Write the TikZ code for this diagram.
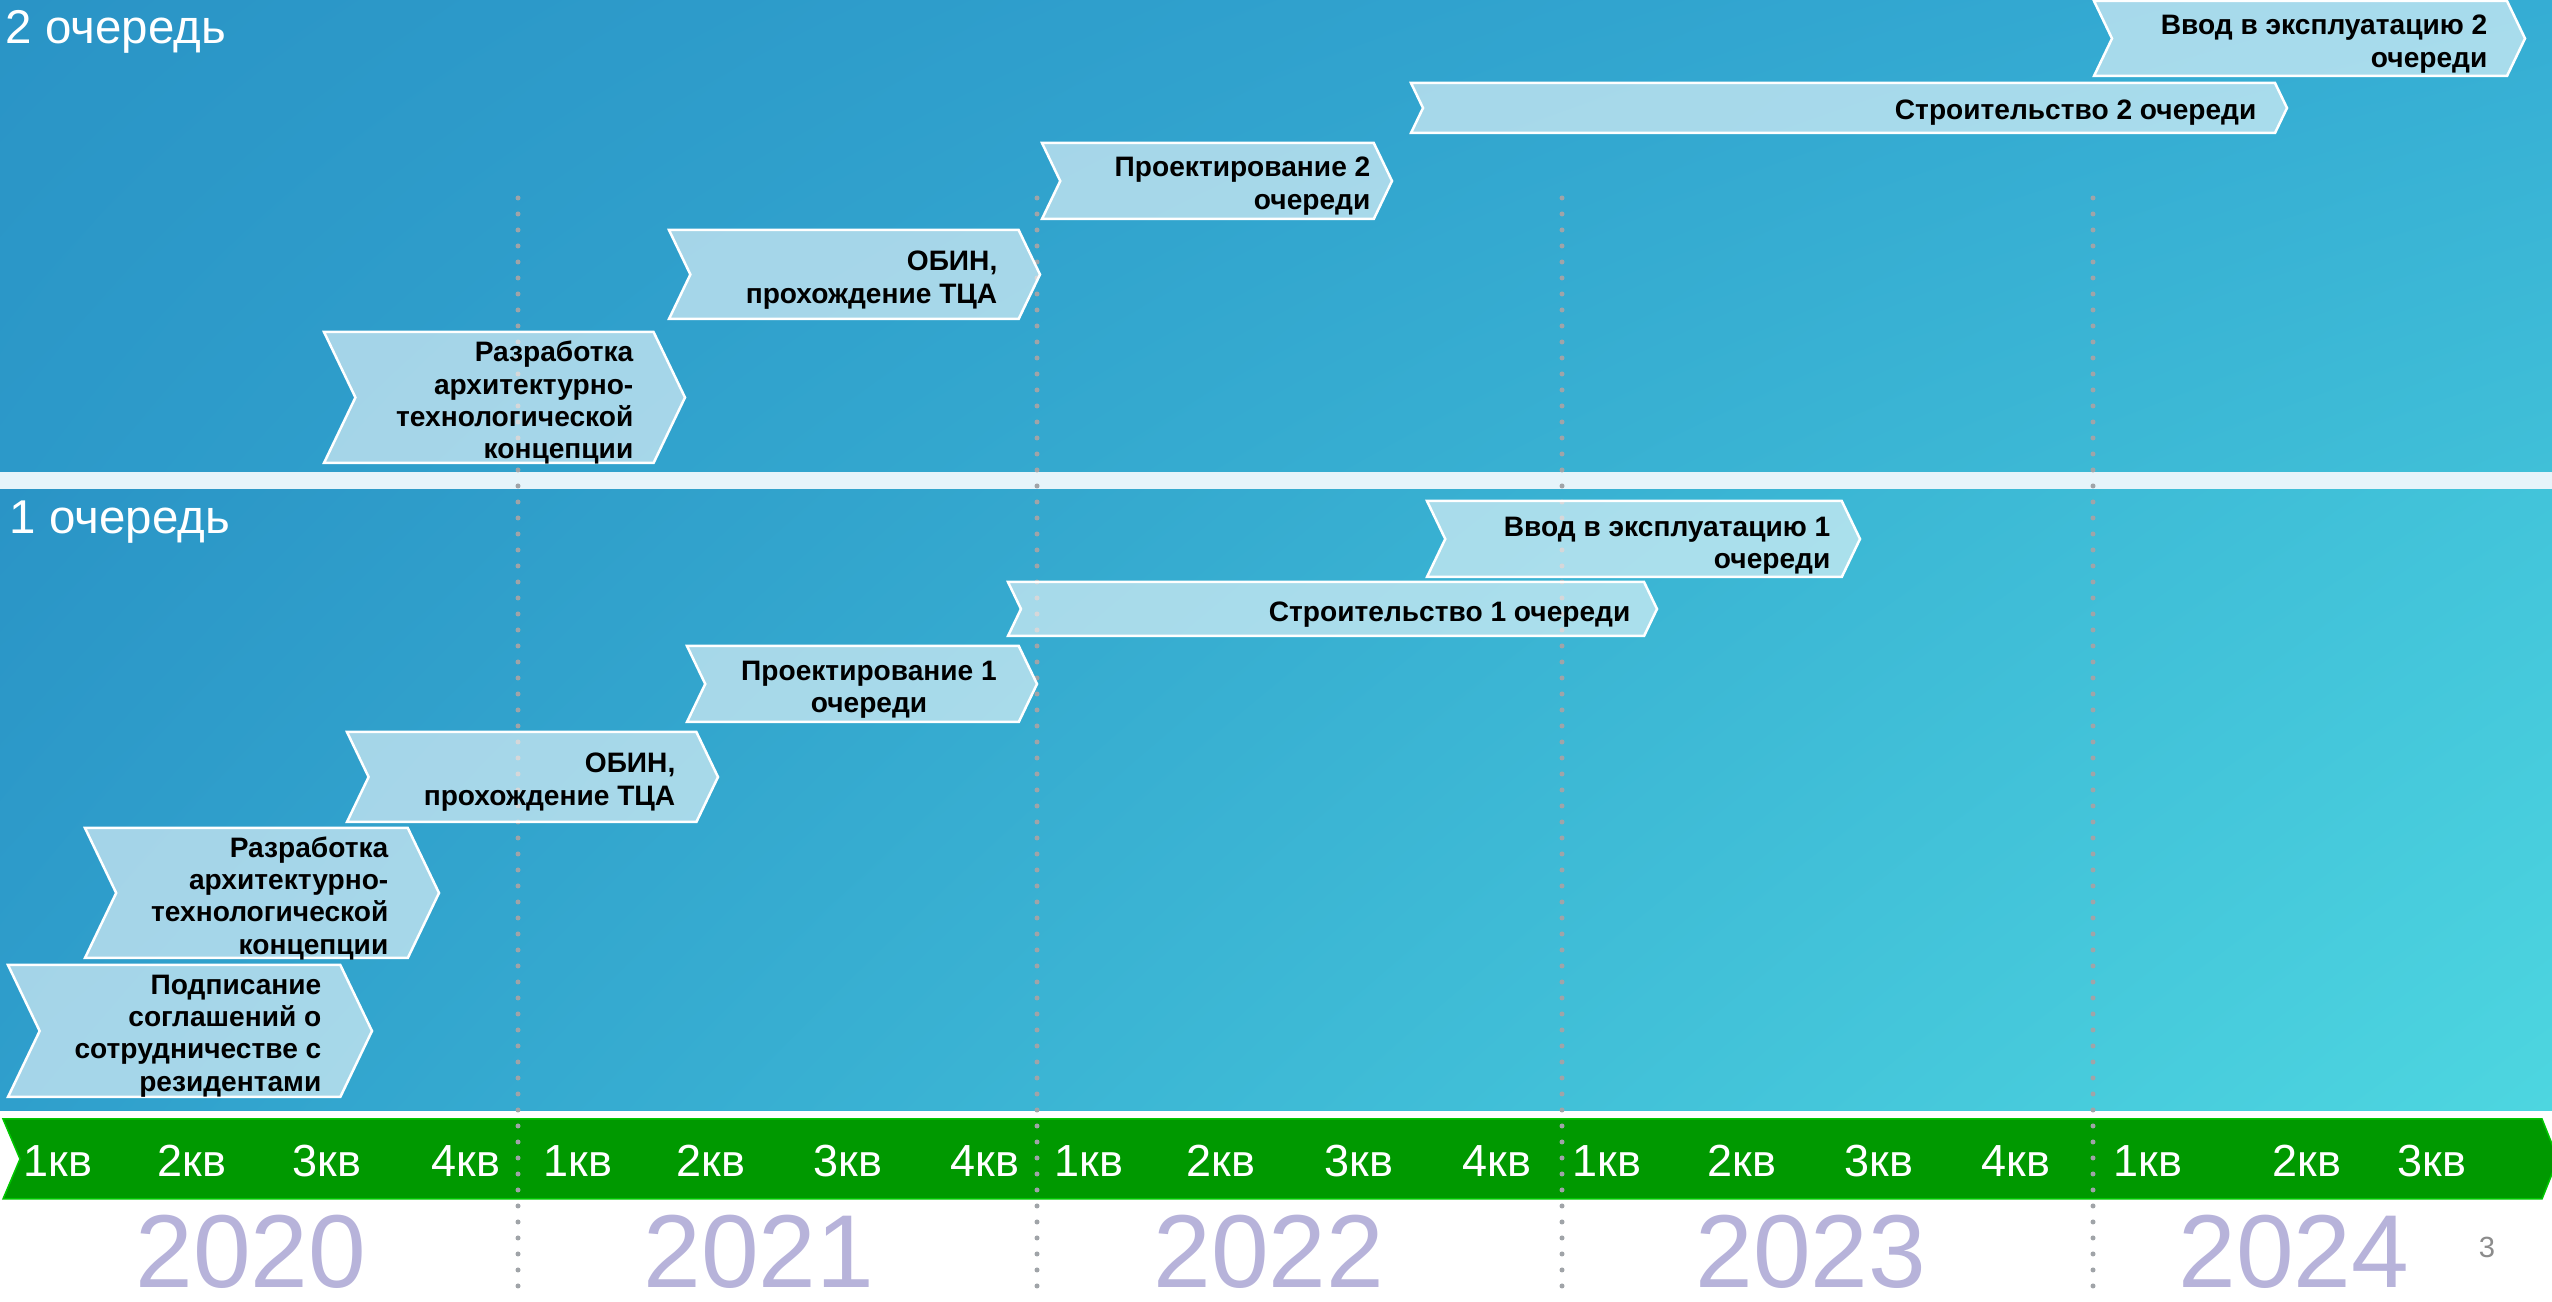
\documentclass[tikz,border=0pt]{standalone}
\usepackage{fontspec}
\setmainfont{Liberation Sans}
\usepackage{tikz}
\usetikzlibrary{positioning}
\usetikzlibrary{shadings}
\definecolor{skyUL}{HTML}{2A94C6}
\definecolor{skyUR}{HTML}{35ADD4}
\definecolor{skyLL}{HTML}{2C99C9}
\definecolor{skyLR}{HTML}{40C0D8}
\definecolor{seaUR}{HTML}{42C4DA}
\definecolor{seaLL}{HTML}{2F9FCC}
\definecolor{seaLR}{HTML}{4DD6E0}
\definecolor{stripcol}{HTML}{E6F4FA}
\definecolor{bandgreen}{HTML}{009900}
\definecolor{yearcol}{HTML}{B7B3DA}
\definecolor{sepgray}{HTML}{A0A4A8}
\definecolor{pagegray}{HTML}{8C8C8C}
\tikzstyle{chevron}=[fill=white, fill opacity=0.57, draw=white, line width=0.25mm, line join=miter]
\tikzstyle{chevtext}=[text=black, inner sep=0pt, align=right, font=\fontsize{8}{9.2}\selectfont\bfseries]
\tikzstyle{quarter}=[text=white, inner sep=0pt, anchor=base, font=\fontsize{12.8}{14}\selectfont]
\tikzstyle{year}=[text=yearcol, inner sep=0pt, anchor=base, font=\fontsize{29.5}{34}\selectfont]
\tikzstyle{heading}=[text=white, inner sep=0pt, anchor=base west, font=\fontsize{13.5}{16}\selectfont]
\tikzset{sep/.style={draw=sepgray, line width=0.5mm, line cap=round, dash pattern=on 0pt off 1.6mm}}
\tikzset{band/.style={fill=bandgreen, draw=green!45!bandgreen, line width=0.15mm}}

\newcommand{\chev}[4]{%
  \pgfmathsetmacro{\chevd}{0.24*(#4-#3)}%
  \pgfmathsetmacro{\chevm}{(#3+#4)/2}%
  \draw[chevron] (#1,#3) -- ({#2-\chevd},#3) -- (#2,\chevm) -- ({#2-\chevd},#4) -- (#1,#4) -- ({#1+\chevd},\chevm) -- cycle;}

\begin{document}
\begin{tikzpicture}[x=0.1mm,y=-0.1mm]
		\useasboundingbox (0,0) rectangle (2552,1302);
		\fill[white] (0,0) rectangle (2552,1302);
		\shade[upper left=skyUL, upper right=skyUR, lower left=skyLL, lower right=skyLR] (0,0) rectangle (2552,472);
		\fill[stripcol] (0,472) rectangle (2552,490);
		\shade[upper left=skyUL, upper right=seaUR, lower left=seaLL, lower right=seaLR] (0,490) rectangle (2552,1111);
		\draw[band] (3,1119) -- (2542,1119) -- (2558,1159) -- (2542,1199) -- (3,1199) -- (20,1159) -- cycle;

		\draw[sep] (518,198) -- (518,1292);
		\draw[sep] (1037,198) -- (1037,1292);
		\draw[sep] (1562,198) -- (1562,1292);
		\draw[sep] (2093,198) -- (2093,1292);

		\node[heading] (head2) at (5,44) {2 очередь};
		\node[heading] (head1) at (9,534) {1 очередь};

		\chev{2094}{2525}{1}{76}
		\chev{1411}{2287}{83}{133}
		\chev{1042}{1392}{143}{219}
		\chev{669}{1040}{230}{319}
		\chev{324}{685}{332}{463}
		\node[chevtext, anchor=east] (vvod2) at (2488,44) {Ввод в эксплуатацию 2\\очереди};
		\node[chevtext, anchor=east] (stroy2) at (2257,113) {Строительство 2 очереди};
		\node[chevtext, anchor=east] (proekt2) at (1371,186) {Проектирование 2\\очереди};
		\node[chevtext, anchor=east] (obin2) at (998,280) {ОБИН,\\прохождение ТЦА};
		\node[chevtext, anchor=east] (razr2) at (634,403) {Разработка\\архитектурно-\\технологической\\концепции};

		\chev{1427}{1860}{501}{577}
		\chev{1008}{1657}{582}{636}
		\chev{687}{1037}{646}{722}
		\chev{347}{718}{732}{822}
		\chev{85}{439}{828}{958}
		\chev{8}{372}{965}{1097}
		\node[chevtext, anchor=east] (vvod1) at (1831,546) {Ввод в эксплуатацию 1\\очереди};
		\node[chevtext, anchor=east] (stroy1) at (1631,615) {Строительство 1 очереди};
		\node[chevtext, align=center] (proekt1) at (869,690) {Проектирование 1\\очереди};
		\node[chevtext, anchor=east] (obin1) at (676,782) {ОБИН,\\прохождение ТЦА};
		\node[chevtext, anchor=east] (razr1) at (389,898) {Разработка\\архитектурно-\\технологической\\концепции};
		\node[chevtext, anchor=east] (podp1) at (322,1036) {Подписание\\соглашений о\\сотрудничестве с\\резидентами};

		\node[quarter] (q20a) at (58,1177) {1кв};
		\node[quarter] (q20b) at (192,1177) {2кв};
		\node[quarter] (q20c) at (327,1177) {3кв};
		\node[quarter] (q20d) at (466,1177) {4кв};
		\node[quarter] (q21a) at (578,1177) {1кв};
		\node[quarter] (q21b) at (711,1177) {2кв};
		\node[quarter] (q21c) at (848,1177) {3кв};
		\node[quarter] (q21d) at (985,1177) {4кв};
		\node[quarter] (q22a) at (1089,1177) {1кв};
		\node[quarter] (q22b) at (1221,1177) {2кв};
		\node[quarter] (q22c) at (1359,1177) {3кв};
		\node[quarter] (q22d) at (1497,1177) {4кв};
		\node[quarter] (q23a) at (1607,1177) {1кв};
		\node[quarter] (q23b) at (1742,1177) {2кв};
		\node[quarter] (q23c) at (1879,1177) {3кв};
		\node[quarter] (q23d) at (2016,1177) {4кв};
		\node[quarter] (q24a) at (2148,1177) {1кв};
		\node[quarter] (q24b) at (2307,1177) {2кв};
		\node[quarter] (q24c) at (2432,1177) {3кв};

		\node[year] (y2020) at (251,1288) {2020};
		\node[year] (y2021) at (759,1288) {2021};
		\node[year] (y2022) at (1269,1288) {2022};
		\node[year] (y2023) at (1811,1288) {2023};
		\node[year] (y2024) at (2294,1288) {2024};
		\node[text=pagegray, inner sep=0pt, anchor=base, font=\fontsize{8.3}{10}\selectfont] (pagenum) at (2487,1258) {3};
\end{tikzpicture}
\end{document}
